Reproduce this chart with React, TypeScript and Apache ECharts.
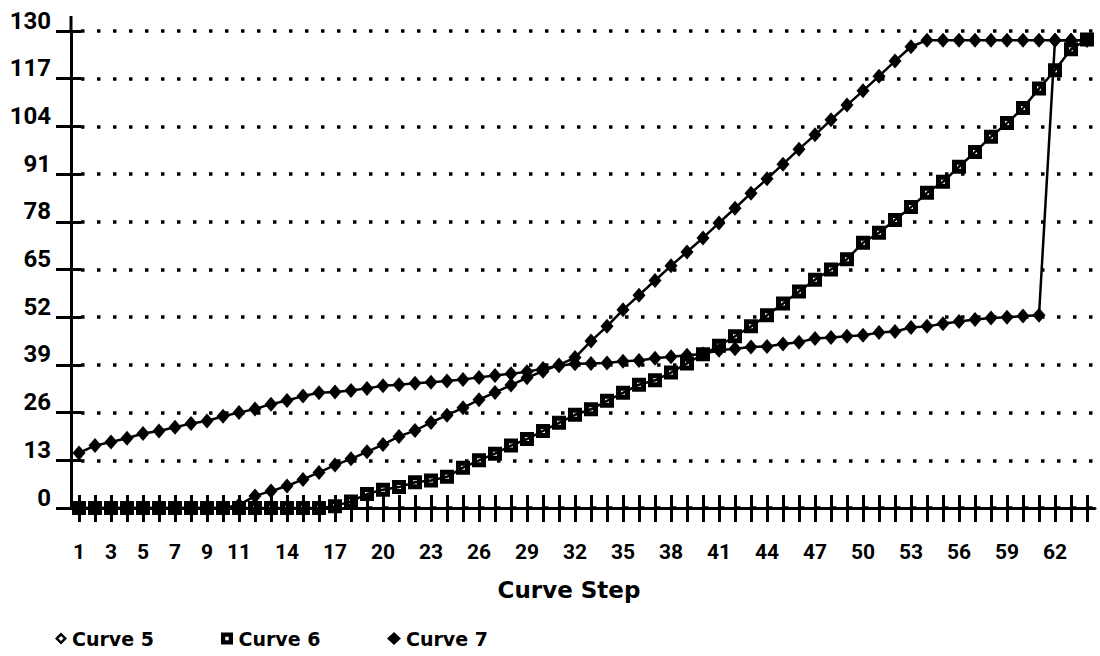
import React, { useEffect, useRef } from "react";
import * as echarts from "echarts";

const categories = [
  "1","2","3","4","5","6","7","8","9","10","11","12","13","14","15","16",
  "17","18","19","20","21","22","23","24","25","26","27","28","29","30","31","32",
  "33","34","35","36","37","38","39","40","41","42","43","44","45","46","47","48",
  "49","50","51","52","53","54","55","56","57","58","59","60","61","62","63","64",
];

const shownXLabels = [
  "1","3","5","7","9","11","14","17","20","23","26","29","32","35","38","41","44","47","50","53","56","59","62",
];

const yMin = 0;
const yMax = 130;
const yStep = 13;

const curve5 = [
  15, 17, 18, 19, 20.3, 21, 22, 23, 23.7, 25, 26, 27, 28.3, 29.3, 30.5, 31.4,
  31.6, 32, 32.6, 33.3, 33.6, 34, 34.3, 34.6, 35, 35.6, 36.1, 36.6, 37.1, 38, 38.8, 39.3,
  39.4, 39.5, 40, 40.2, 40.8, 41.2, 41.6, 42, 43, 43.4, 43.9, 44, 44.7, 45.2, 46.2, 46.5,
  46.8, 47.1, 47.8, 48.1, 49.2, 49.5, 50.2, 50.8, 51.4, 51.8, 52, 52.3, 52.5, 127.5, 127.5, 127.5,
];

const curve6 = [
  0, 0, 0, 0, 0, 0, 0, 0, 0, 0, 0, 0, 0, 0, 0, 0,
  0.5, 1.8, 3.8, 5, 5.7, 7, 7.5, 8.5, 11, 13, 14.8, 17, 18.8, 21, 23.2, 25.4,
  26.9, 29.2, 31.4, 33.6, 34.8, 36.9, 39.4, 41.9, 44.2, 46.8, 49.5, 52.5, 55.7, 59, 62.2, 65,
  67.8, 72.3, 75, 78.5, 82, 85.9, 88.9, 93, 97, 101.2, 104.9, 109, 114.3, 119.3, 125, 127.7,
];

const curve7 = [
  0, 0, 0, 0, 0, 0, 0, 0, 0, 0, 0.8, 3.3, 4.6, 6, 7.8, 9.7,
  11.7, 13.4, 15.3, 17.3, 19.5, 21.1, 23.3, 25.3, 27.3, 29.5, 31.5, 33.5, 35.5, 37.3, 39, 41,
  45.5, 49.5, 54, 58, 62, 66, 69.8, 73.6, 77.7, 81.7, 85.8, 89.7, 93.7, 97.8, 101.7, 105.8,
  109.8, 113.7, 117.7, 121.8, 125.7, 127.5, 127.5, 127.5, 127.5, 127.5, 127.5, 127.5, 127.5, 127.5, 127.5, 127.5,
];

const seriesNames = ["Curve 5", "Curve 6", "Curve 7"];

const NUM_FONT = "Roboto, 'DejaVu Sans', sans-serif";
const WIDE = "'DejaVu Sans', sans-serif";

// Marker shapes (rings drawn with a reversed inner sub-path so they keep a hole)
const SYM_DIAMOND_RING_LEGEND = "path://M7,0L14,7L7,14L0,7Z M7,4L4,7L7,10L10,7Z";
const SYM_SQUARE_RING = "path://M0,0H14V14H0Z M5,5V9H9V5Z";

export default function App() {
  const ref = useRef<HTMLDivElement>(null);

  useEffect(() => {
    document.body.style.margin = "0";
    const chart = echarts.init(ref.current!, null, { renderer: "svg" });
    const gridLeft = 71;
    const gridTop = 31;
    const shownSet = new Set(shownXLabels);

    const baseX = {
      type: "category" as const,
      data: categories,
      boundaryGap: true,
      position: "bottom" as const,
    };
    const baseY = {
      type: "value" as const,
      min: yMin,
      max: yMax,
      interval: yStep,
      position: "left" as const,
    };
    const legendText = { fontFamily: WIDE, fontWeight: "bold", fontSize: 19, color: "#000" };

    chart.setOption({
      animation: false,
      backgroundColor: "#ffffff",
      grid: { left: gridLeft, top: gridTop, right: 5, bottom: 148, containLabel: false },
      xAxis: [
        {
          ...baseX,
          name: "Curve Step",
          nameLocation: "middle",
          nameGap: 70,
          nameTextStyle: {
            fontFamily: WIDE,
            fontWeight: "bold",
            fontSize: 23,
            color: "#000",
            padding: [0, 28, 0, 0],
          },
          axisLine: { show: true, onZero: false, lineStyle: { color: "#000", width: 3 } },
          axisTick: {
            show: true,
            interval: 0,
            alignWithLabel: true,
            inside: false,
            length: 14,
            lineStyle: { color: "#000", width: 3 },
          },
          axisLabel: {
            interval: (_i: number, v: string) => shownSet.has(v),
            margin: 33,
            fontFamily: NUM_FONT,
            fontWeight: "bold",
            fontSize: 21,
            color: "#000",
          },
          splitLine: { show: false },
        },
        {
          ...baseX,
          axisLine: { show: false, onZero: false },
          axisTick: {
            show: true,
            interval: 0,
            alignWithLabel: true,
            inside: true,
            length: 13,
            lineStyle: { color: "#000", width: 3 },
          },
          axisLabel: { show: false },
          splitLine: { show: false },
        },
      ],
      yAxis: [
        {
          ...baseY,
          axisLine: { show: true, lineStyle: { color: "#000", width: 3 } },
          axisTick: { show: true, inside: false, length: 15, lineStyle: { color: "#000", width: 3 } },
          axisLabel: {
            margin: 20,
            fontFamily: NUM_FONT,
            fontWeight: "bold",
            fontSize: 24,
            color: "#000",
            verticalAlign: "bottom",
            lineHeight: 21,
            padding: 0,
          },
          splitLine: {
            show: true,
            lineStyle: { color: "#000", width: 3.5, type: [3.5, 12.5], dashOffset: -10 },
          },
        },
        {
          ...baseY,
          axisLine: { show: false },
          axisTick: { show: true, inside: true, length: 10, lineStyle: { color: "#000", width: 3 } },
          axisLabel: { show: false },
          splitLine: { show: false },
        },
      ],
      legend: [
        {
          data: [{ name: seriesNames[0], icon: SYM_DIAMOND_RING_LEGEND }],
          left: 50,
          top: 624,
          itemWidth: 12,
          itemHeight: 12,
          textStyle: legendText,
        },
        {
          data: [{ name: seriesNames[1], icon: SYM_SQUARE_RING }],
          left: 216,
          top: 624,
          itemWidth: 13,
          itemHeight: 12,
          textStyle: legendText,
        },
        {
          data: [{ name: seriesNames[2], icon: "diamond" }],
          left: 382,
          top: 624,
          itemWidth: 14,
          itemHeight: 13,
          textStyle: legendText,
        },
      ],
      graphic: [
        {
          type: "line",
          shape: { x1: gridLeft, y1: gridTop - 15, x2: gridLeft, y2: gridTop },
          style: { stroke: "#000", lineWidth: 3 },
          z: 100,
        },
      ],
      series: [
        {
          name: seriesNames[0],
          type: "line",
          data: curve5,
          symbol: "diamond",
          symbolSize: [13, 15],
          showAllSymbol: true,
          lineStyle: { color: "#000", width: 2.5 },
          itemStyle: { color: "#000" },
          z: 3,
        },
        {
          name: seriesNames[1],
          type: "line",
          data: curve6,
          symbol: SYM_SQUARE_RING,
          symbolSize: 14,
          showAllSymbol: true,
          lineStyle: { color: "#000", width: 2.5 },
          itemStyle: { color: "#000" },
          z: 4,
        },
        {
          name: seriesNames[2],
          type: "line",
          data: curve7,
          symbol: "diamond",
          symbolSize: [13, 15],
          showAllSymbol: true,
          lineStyle: { color: "#000", width: 2.5 },
          itemStyle: { color: "#000" },
          z: 5,
        },
      ],
    });

    return () => chart.dispose();
  }, []);

  return (
    <div
      ref={ref}
      style={{ position: "fixed", left: 0, top: 0, width: 1100, height: 656, background: "#fff" }}
    />
  );
}
